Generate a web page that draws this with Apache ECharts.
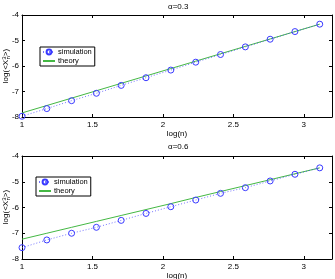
<!DOCTYPE html>
<html><head><meta charset="utf-8">
<script src="https://cdn.jsdelivr.net/npm/echarts@6/dist/echarts.min.js"></script>
<style>html,body{margin:0;padding:0;background:#fff}#c{width:335px;height:279px}</style>
</head><body><div id="c"></div>
<script>
var logN = [1.000, 1.176, 1.352, 1.528, 1.704, 1.880, 2.056, 2.233, 2.409, 2.585, 2.761, 2.937, 3.113];
var sim03 = [-7.97, -7.67, -7.36, -7.07, -6.76, -6.46, -6.16, -5.85, -5.55, -5.25, -4.95, -4.65, -4.36];
var theory03 = [-7.84, -7.55, -7.26, -6.97, -6.68, -6.39, -6.10, -5.81, -5.52, -5.23, -4.94, -4.65, -4.36];
var sim06 = [-7.56, -7.26, -7.00, -6.77, -6.50, -6.23, -5.97, -5.71, -5.45, -5.23, -4.97, -4.71, -4.46];
var theory06 = [-7.23, -7.00, -6.77, -6.54, -6.31, -6.08, -5.85, -5.61, -5.38, -5.15, -4.92, -4.69, -4.46];
var titles = ['\u03b1=0.3', '\u03b1=0.6'];
var xTicks = [1, 1.5, 2, 2.5, 3];
var yTicks = [-8, -7, -6, -5, -4];
var yName = 'log(<X{sp|3}{sb|n}>)';

function pairs(xs, ys){ return xs.map(function(x,i){return [x, ys[i]];}); }
var FONT = 'Liberation Sans';
var BLUE = '#3a3aff', GREEN = '#44b844';
var grids = [{left:22, right:3, top:15, height:102, outerBoundsMode:'none', containLabel:false},
             {left:22, right:3, top:156, height:103, outerBoundsMode:'none', containLabel:false}];
var xAxes = [], yAxes = [], series = [], legends = [], titleArr = [], graphics = [];
var sims = [sim03, sim06], ths = [theory03, theory06];
var legendPos = [{left:40, top:47}, {left:36, top:177}];
var rich = {
  sp:{fontSize:6, fontFamily:FONT, fill:'#000', color:'#000', verticalAlign:'top', padding:[0,0,4,0]},
  sb:{fontSize:6, fontFamily:FONT, fill:'#000', color:'#000', verticalAlign:'bottom', padding:[4,0,0,-3]}};
grids.forEach(function(g, gi){
  var labelX = {fontSize:8, color:'#000', fontFamily:FONT, margin:4,
    formatter:function(v){ return xTicks.indexOf(Math.round(v*100)/100) >= 0 ? String(v) : ''; }};
  xAxes.push({type:'value', gridIndex:gi, min:1, max:3.2, interval:0.5, position:'bottom',
    name:'log(n)', nameLocation:'middle', nameGap:13, nameMoveOverlap:false,
    nameTextStyle:{fontSize:8, fontFamily:FONT, color:'#000'},
    axisLine:{onZero:false, lineStyle:{color:'#000', width:1}}, axisTick:{inside:true, length:3, lineStyle:{color:'#000'}},
    axisLabel:labelX, splitLine:{show:false}});
  xAxes.push({type:'value', gridIndex:gi, min:1, max:3.2, interval:0.5, position:'top',
    axisLine:{onZero:false, lineStyle:{color:'#000', width:1}}, axisTick:{inside:true, length:3, lineStyle:{color:'#000'}},
    axisLabel:{show:false}, splitLine:{show:false}});
  yAxes.push({type:'value', gridIndex:gi, min:-8, max:-4, interval:1, position:'left',
    axisLine:{onZero:false, lineStyle:{color:'#000', width:1}}, axisTick:{inside:true, length:3, lineStyle:{color:'#000'}},
    axisLabel:{fontSize:8, color:'#000', fontFamily:FONT, margin:3}, splitLine:{show:false}});
  yAxes.push({type:'value', gridIndex:gi, min:-8, max:-4, interval:1, position:'right',
    axisLine:{onZero:false, lineStyle:{color:'#000', width:1}}, axisTick:{inside:true, length:3, lineStyle:{color:'#000'}},
    axisLabel:{show:false}, splitLine:{show:false}});
  series.push({name:'simulation', type:'line', xAxisIndex:gi*2, yAxisIndex:gi*2, data:pairs(logN, sims[gi]),
    symbol:'circle', symbolSize:6, showAllSymbol:true,
    lineStyle:{color:BLUE, width:1, type:[1,2], opacity:0.7},
    itemStyle:{color:'rgba(0,0,0,0)', borderColor:BLUE, borderWidth:1}, z:3, animation:false});
  series.push({name:'theory', type:'line', xAxisIndex:gi*2, yAxisIndex:gi*2, data:pairs(logN, ths[gi]),
    symbol:'none', lineStyle:{color:GREEN, width:1}, itemStyle:{color:GREEN}, z:2, animation:false});
  legends.push({orient:'vertical', left:legendPos[gi].left, top:legendPos[gi].top,
    data:['simulation', {name:'theory', itemStyle:{opacity:0}}], itemWidth:12, itemHeight:6, itemGap:1, padding:[1,3,1,2],
    borderColor:'#000', borderWidth:1, backgroundColor:'#fff', selectedMode:false, borderRadius:0,
    textStyle:{fontSize:7.5, fontFamily:FONT, color:'#000', padding:[0,0,0,-2]}});
  titleArr.push({text:titles[gi], left:168, top: gi===0 ? 3 : 143,
    textStyle:{fontSize:8, fontWeight:'normal', fontFamily:FONT, color:'#000'}, padding:0});
  graphics.push({type:'text', x:6, y: gi===0 ? 66 : 207, rotation:Math.PI/2,
    style:{text:yName, rich:rich, fontSize:8, fontFamily:FONT, fill:'#000', align:'center', verticalAlign:'middle'}});
});
var chart = echarts.init(document.getElementById('c'), null, {renderer:'canvas'});
chart.setOption({animation:false, backgroundColor:'#fff', title:titleArr, grid:grids,
  xAxis:xAxes, yAxis:yAxes, series:series, legend:legends, graphic:graphics});
</script></body></html>
